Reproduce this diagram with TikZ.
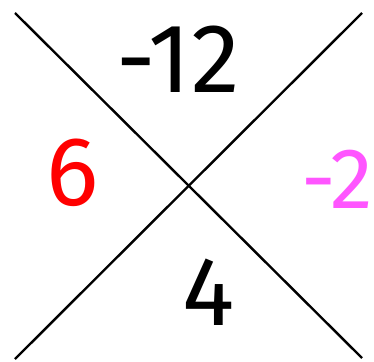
\documentclass[tikz,border=0pt]{standalone}
\usepackage{fontspec}
\setmainfont{Fira Sans}
\definecolor{numred}{RGB}{255,0,0}
\definecolor{nummag}{RGB}{255,85,255}
\begin{document}
\begin{tikzpicture}[x=1pt,y=-1pt,
  cross/.style={line width=2.4pt,black},
  num/.style={inner sep=0pt,font=\fontsize{98}{98}\selectfont},
  numsmall/.style={inner sep=0pt,font=\fontsize{86}{86}\selectfont}]
\useasboundingbox (0,0) rectangle (374,361);
\coordinate (tl) at (15,13);
\coordinate (br) at (362,358);
\coordinate (tr) at (362,13);
\coordinate (bl) at (15,359);
\draw[cross] (tl) -- (br);
\draw[cross] (tr) -- (bl);
\node[num,anchor=base] (top) at (178,92) {-12};
\node[num,anchor=base,text=numred] (left) at (73,205) {6};
\node[numsmall,anchor=base,text=nummag] (right) at (337,208) {-2};
\node[num,anchor=base] (bottom) at (209,325) {4};
\end{tikzpicture}
\end{document}
